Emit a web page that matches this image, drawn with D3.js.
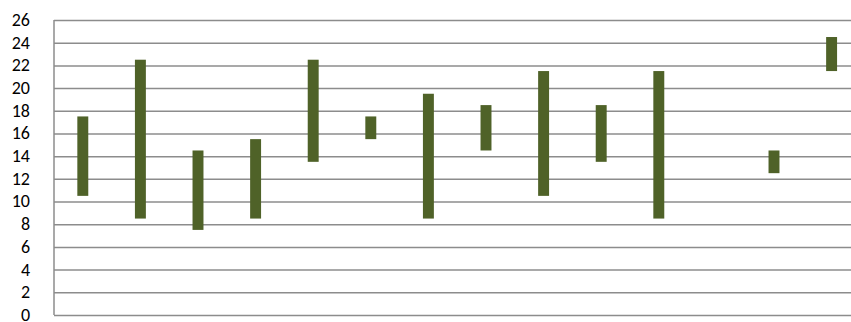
<!DOCTYPE html>
<html><head><meta charset="utf-8">
<script src="https://cdn.jsdelivr.net/npm/d3@7"></script>
<style>body{margin:0;background:#fff}svg{display:block}</style>
</head><body><svg id="c" width="851" height="322"></svg>
<script>
const categories = ["1","2","3","4","5","6","7","8","9","10","11","12","13","14"];
const lows  = [10.5, 8.5, 7.5, 8.5, 13.5, 15.5, 8.5, 14.5, 10.5, 13.5, 8.5, null, 12.5, 21.5];
const highs = [17.5, 22.5, 14.5, 15.5, 22.5, 17.5, 19.5, 18.5, 21.5, 18.5, 21.5, null, 14.5, 24.5];
const yTicks = [0,2,4,6,8,10,12,14,16,18,20,22,24,26];

(function(){
const svg = d3.select("#c");
const mLeft = 54, mRight = 860.4, mTop = 20, mBottom = 315;
const x = d3.scaleBand().domain(categories).range([mLeft, mRight]).paddingInner(0.81).paddingOuter(0.405);
const y = d3.scaleLinear().domain([0, 26]).range([mBottom, mTop]);

const yAxis = d3.axisLeft(y).tickValues(yTicks).tickSize(-(mRight-mLeft)).tickPadding(24);
const g = svg.append("g").attr("transform", `translate(${mLeft},0)`).call(yAxis);
g.select(".domain").remove();
g.selectAll(".tick line").attr("stroke", "#8c8c8c").attr("stroke-width", 1.5);
g.selectAll(".tick text").attr("font-family", "Carlito, 'Open Sans', sans-serif").attr("font-size", 18).attr("fill", "#000").attr("dy", "0.3em");
svg.append("line").attr("x1", mLeft).attr("x2", mLeft).attr("y1", mTop).attr("y2", mBottom)
  .attr("stroke", "#8c8c8c").attr("stroke-width", 1.5);

const data = categories.map((c,i)=>({c, lo: lows[i], hi: highs[i]})).filter(d=>d.lo!=null);
svg.append("g").selectAll("rect").data(data).join("rect")
  .attr("x", d=>x(d.c)).attr("width", x.bandwidth())
  .attr("y", d=>y(d.hi)).attr("height", d=>y(d.lo)-y(d.hi))
  .attr("fill", "#4f6228");
})();
</script></body></html>
